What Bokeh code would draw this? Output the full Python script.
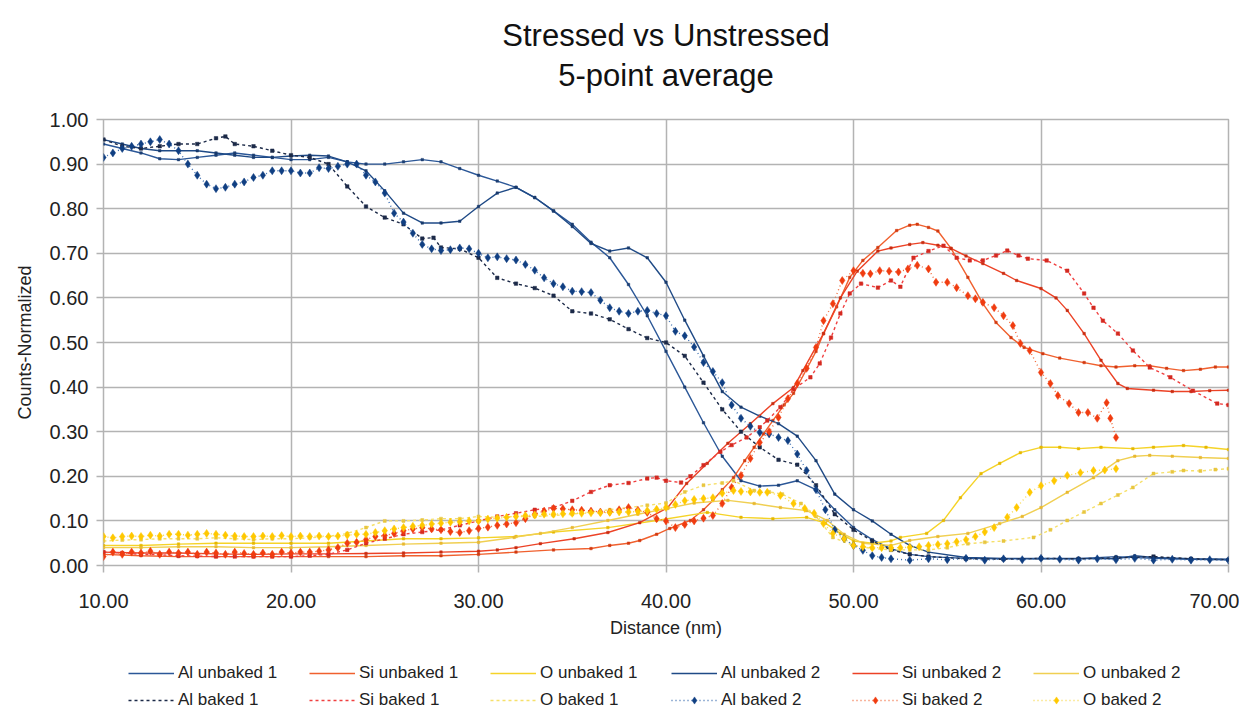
from bokeh.plotting import figure
from bokeh.layouts import column
from bokeh.models import (Range1d, FixedTicker, NumeralTickFormatter, Title,
                          Legend, LegendItem, ColumnDataSource)
from bokeh.embed import file_html
from bokeh.resources import INLINE

FONT = "Liberation Sans"

# ---------------- data (distance nm, normalized counts) ----------------
al_unbaked_1 = [(10,0.945),(11,0.935),(12,0.925),(13,0.912),(14,0.91),(15,0.915),(16,0.92),(17,0.925),
    (18,0.92),(19,0.915),(20,0.91),(21,0.91),(22,0.915),(23,0.905),(24,0.90),(25,0.90),(26,0.905),
    (27,0.91),(28,0.905),(29,0.89),(30,0.875),(31,0.862),(32,0.848),(33,0.825),(34,0.795),(35,0.765),
    (36,0.725),(37,0.69),(38,0.63),(39,0.56),(40,0.48),(41,0.40),(42,0.32),(43,0.245),(44,0.19),
    (45,0.178),(46,0.18),(47,0.19),(48,0.17),(49,0.125),(50,0.085),(51,0.058),(52,0.038),(53,0.025),
    (54,0.02),(56,0.016),(58,0.015),(60,0.016),(62,0.015),(64,0.02),(66,0.016),(68,0.014),(70,0.013)]

al_unbaked_2 = [(10,0.955),(11,0.945),(12,0.935),(13,0.93),(14,0.93),(15,0.93),(16,0.925),(17,0.92),
    (18,0.915),(19,0.915),(20,0.918),(21,0.92),(22,0.918),(23,0.905),(24,0.885),(25,0.84),(26,0.79),
    (27,0.768),(28,0.768),(29,0.772),(30,0.805),(31,0.835),(32,0.848),(33,0.825),(34,0.795),(35,0.76),
    (36,0.722),(37,0.705),(38,0.712),(39,0.69),(40,0.635),(41,0.55),(42,0.47),(43,0.39),(44,0.355),
    (45,0.335),(46,0.318),(47,0.29),(48,0.235),(49,0.16),(50,0.125),(51,0.1),(52,0.07),(53,0.045),
    (54,0.03),(56,0.018),(58,0.016),(60,0.015),(62,0.016),(64,0.015),(65,0.022),(66,0.018),(68,0.015),
    (70,0.014)]

al_baked_1 = [(10,0.955),(11,0.94),(12,0.935),(13,0.94),(14,0.945),(15,0.945),(16,0.958),(16.5,0.962),
    (17,0.945),(18,0.94),(19,0.93),(20,0.92),(21,0.915),(22,0.9),(23,0.85),(24,0.805),(25,0.78),
    (26,0.765),(27,0.733),(27.6,0.735),(28,0.713),(29,0.71),(30,0.69),(31,0.645),(32,0.632),(33,0.622),
    (34,0.605),(35,0.57),(36,0.565),(37,0.552),(38,0.53),(39,0.51),(40,0.50),(41,0.47),(42,0.41),
    (43,0.35),(44,0.30),(45,0.265),(46,0.237),(47,0.226),(48,0.18),(49,0.115),(50,0.08),(51,0.055),
    (52,0.035),(53,0.025),(54,0.02),(56,0.015),(58,0.014),(60,0.016),(62,0.015),(64,0.017),(66,0.02),
    (68,0.015),(70,0.013)]

al_baked_2 = [(10,0.915),(10.5,0.925),(11,0.935),(11.5,0.94),(12,0.945),(12.5,0.95),(13,0.955),
    (13.5,0.945),(14,0.93),(14.5,0.9),(15,0.875),(15.5,0.855),(16,0.845),(16.5,0.848),(17,0.855),
    (17.5,0.86),(18,0.87),(18.5,0.875),(19,0.885),(19.5,0.885),(20,0.885),(20.5,0.88),(21,0.88),
    (21.5,0.892),(22,0.89),(22.5,0.895),(23,0.9),(23.5,0.9),(24,0.875),(24.5,0.86),(25,0.835),
    (25.5,0.79),(26,0.77),(26.5,0.745),(27,0.72),(27.5,0.71),(28,0.706),(28.5,0.708),(29,0.712),
    (29.5,0.71),(30,0.70),(30.5,0.69),(31,0.692),(31.5,0.688),(32,0.685),(32.5,0.675),(33,0.662),
    (33.5,0.645),(34,0.632),(34.5,0.625),(35,0.615),(35.5,0.614),(36,0.612),(36.5,0.595),(37,0.578),
    (37.5,0.57),(38,0.565),(38.5,0.57),(39,0.572),(39.5,0.565),(40,0.56),(40.5,0.525),(41,0.515),
    (41.5,0.49),(42,0.455),(42.5,0.435),(43,0.41),(43.5,0.36),(44,0.33),(44.5,0.312),(45,0.298),
    (45.5,0.295),(46,0.287),(46.5,0.28),(47,0.25),(47.5,0.213),(48,0.17),(48.5,0.125),(49,0.08),
    (49.5,0.06),(50,0.045),(50.5,0.034),(51,0.022),(51.5,0.018),(52,0.015),(53,0.012),(54,0.015),
    (55,0.013),(56,0.016),(57,0.012),(58,0.015),(59,0.013),(60,0.016),(61,0.014),(62,0.012),(63,0.015),
    (64,0.013),(65,0.016),(66,0.012),(67,0.014),(68,0.012),(69,0.013),(70,0.012)]

si_unbaked_1 = [(10,0.025),(12,0.022),(14,0.02),(16,0.02),(18,0.02),(20,0.02),(22,0.02),(24,0.02),
    (26,0.022),(28,0.022),(30,0.025),(32,0.03),(34,0.035),(36,0.038),(37,0.045),(38,0.05),(38.6,0.056),
    (39.5,0.07),(40.2,0.083),(41.3,0.101),(42,0.125),(42.5,0.146),(43,0.17),(43.6,0.197),(44.2,0.235),
    (44.7,0.265),(45.2,0.295),(45.7,0.325),(46.3,0.36),(46.8,0.386),(47.5,0.44),(48,0.48),(48.4,0.52),
    (49.1,0.58),(49.8,0.646),(50.5,0.684),(51.3,0.713),(52.3,0.751),(53,0.763),(53.4,0.765),(54,0.758),
    (54.5,0.75),(55.2,0.711),(56.1,0.646),(56.9,0.587),(57.6,0.545),(58.4,0.511),(59.1,0.489),
    (60.1,0.475),(61,0.465),(62.3,0.455),(63.2,0.448),(64,0.445),(65,0.448),(65.8,0.448),(66.7,0.442),
    (67.6,0.437),(68.5,0.44),(69.3,0.445),(70,0.445)]

si_unbaked_2 = [(10,0.03),(12,0.028),(14,0.028),(16,0.026),(18,0.025),(20,0.026),(22,0.026),(24,0.027),
    (26,0.028),(28,0.03),(30,0.032),(31,0.035),(32,0.04),(33.3,0.049),(35.1,0.06),(36.9,0.074),
    (38.6,0.096),(40.1,0.13),(41.1,0.184),(42.2,0.229),(43.3,0.274),(44.5,0.318),(45.7,0.363),
    (46.8,0.399),(47.3,0.437),(48,0.49),(48.4,0.52),(49.3,0.6),(50.2,0.66),(51.3,0.705),(52,0.712),
    (53,0.72),(53.7,0.724),(54.5,0.718),(55.2,0.711),(56,0.694),(56.9,0.677),(58,0.655),(58.7,0.639),
    (60,0.621),(60.8,0.6),(61.4,0.572),(62.3,0.52),(63.2,0.46),(64.1,0.408),(64.6,0.397),(66,0.393),
    (67,0.39),(68,0.39),(69,0.392),(70,0.393)]

si_baked_1 = [(10,0.03),(11,0.028),(12,0.025),(13,0.024),(14,0.022),(15,0.021),(16,0.02),(17,0.02),
    (18,0.02),(19,0.02),(20,0.02),(21,0.022),(22,0.025),(23,0.035),(24,0.05),(25,0.06),(26,0.07),
    (27,0.075),(28,0.08),(29,0.09),(30,0.1),(31,0.11),(32,0.117),(33,0.125),(34,0.13),(35,0.145),
    (36,0.165),(37,0.18),(38,0.185),(39,0.195),(39.5,0.197),(40,0.19),(40.8,0.186),(41.3,0.2),
    (42,0.225),(42.9,0.255),(43.5,0.27),(44.3,0.287),(45,0.31),(45.4,0.325),(46.1,0.355),(46.8,0.395),
    (47.7,0.422),(48.2,0.453),(48.8,0.511),(49.3,0.565),(49.8,0.61),(50.4,0.632),(51.3,0.623),
    (52,0.639),(52.5,0.625),(53.2,0.69),(54,0.705),(54.8,0.717),(55.5,0.69),(56.2,0.684),(56.9,0.684),
    (57.6,0.695),(58.2,0.706),(58.8,0.695),(59.3,0.688),(60.3,0.684),(61.4,0.661),(62.3,0.61),
    (62.8,0.578),(63.3,0.549),(64.1,0.52),(64.9,0.482),(65.8,0.444),(66.9,0.422),(68.1,0.392),
    (69.4,0.363),(70,0.36)]

si_baked_2 = [(10,0.02),(10.5,0.03),(11,0.025),(11.5,0.03),(12,0.028),(12.5,0.032),(13,0.025),
    (13.5,0.03),(14,0.028),(14.5,0.03),(15,0.025),(15.5,0.03),(16,0.028),(16.5,0.025),(17,0.03),
    (17.5,0.027),(18,0.025),(18.5,0.028),(19,0.025),(19.5,0.03),(20,0.028),(20.5,0.03),(21,0.03),
    (21.5,0.032),(22,0.035),(22.5,0.04),(23,0.05),(23.5,0.052),(24,0.058),(24.5,0.065),(25,0.067),
    (25.5,0.072),(26,0.078),(26.5,0.082),(27,0.085),(27.5,0.082),(28,0.08),(28.5,0.076),(29,0.074),
    (29.5,0.078),(30,0.083),(30.5,0.086),(31,0.09),(31.5,0.093),(32,0.096),(32.5,0.105),(33,0.115),
    (33.5,0.122),(34,0.128),(34.5,0.127),(35,0.125),(35.5,0.124),(36,0.122),(36.5,0.12),(37,0.12),
    (37.5,0.125),(38,0.13),(38.5,0.124),(39,0.119),(39.5,0.105),(40,0.1),(40.5,0.085),(41,0.092),
    (41.5,0.1),(42,0.106),(42.5,0.112),(43,0.139),(43.5,0.175),(44,0.202),(44.5,0.24),(45,0.276),
    (45.5,0.3),(46,0.332),(46.5,0.374),(47,0.408),(47.5,0.442),(48,0.489),(48.4,0.549),(48.9,0.587),
    (49.4,0.639),(50,0.661),(50.5,0.655),(50.9,0.654),(51.4,0.661),(51.9,0.66),(52.4,0.658),
    (52.9,0.665),(53.4,0.673),(54,0.665),(54.4,0.635),(55,0.635),(55.5,0.623),(56.1,0.605),
    (56.5,0.598),(56.9,0.59),(57.5,0.578),(58,0.56),(58.5,0.538),(58.9,0.498),(59.4,0.482),(60,0.433),
    (60.5,0.408),(60.9,0.381),(61.5,0.363),(62,0.343),(62.5,0.343),(63,0.33),(63.5,0.365),(63.7,0.33),
    (64,0.287)]

o_unbaked_1 = [(10,0.045),(12,0.045),(14,0.048),(16,0.05),(18,0.05),(20,0.05),(22,0.05),(24,0.055),
    (26,0.06),(28,0.06),(30,0.062),(32,0.065),(34,0.075),(36.9,0.085),(39.5,0.101),(42.2,0.119),
    (44,0.108),(45.7,0.105),(47.5,0.108),(48.5,0.095),(49.3,0.072),(50,0.055),(51,0.05),(52,0.055),
    (52.5,0.063),(53.9,0.072),(54.8,0.101),(55.7,0.152),(56.8,0.206),(57.8,0.229),(58.9,0.253),
    (60,0.265),(61,0.265),(62,0.262),(63.2,0.265),(64.9,0.262),(66,0.265),(67.6,0.269),(68.8,0.265),
    (70,0.26)]

o_unbaked_2 = [(10,0.04),(12,0.04),(14,0.042),(16,0.042),(18,0.04),(20,0.04),(22,0.042),(24,0.045),
    (26,0.048),(28,0.05),(30,0.052),(31.9,0.063),(33.3,0.072),(35,0.085),(36.9,0.101),(38.5,0.115),
    (40.1,0.128),(41.5,0.14),(43.3,0.146),(44.7,0.139),(46.1,0.13),(47.5,0.123),(48.6,0.101),
    (49.5,0.07),(50.5,0.05),(52,0.045),(53,0.056),(54.5,0.065),(56.1,0.072),(57.8,0.094),(59,0.11),
    (60,0.13),(61.4,0.164),(62.8,0.197),(64.1,0.235),(65,0.245),(65.8,0.247),(67,0.245),(68.5,0.242),
    (70,0.24)]

o_baked_1 = [(10,0.055),(11,0.057),(12,0.058),(13,0.06),(14,0.06),(15,0.06),(16,0.062),(17,0.06),
    (18,0.058),(19,0.06),(20,0.06),(21,0.062),(22,0.065),(23,0.072),(24,0.085),(25,0.1),(26,0.1),
    (27,0.102),(28,0.105),(29,0.105),(30,0.11),(31,0.108),(32,0.11),(33,0.11),(34,0.112),(35,0.115),
    (36,0.12),(37,0.125),(38,0.13),(39,0.135),(40,0.14),(41,0.165),(42,0.18),(43,0.185),(43.6,0.19),
    (44.7,0.168),(45.5,0.165),(46.2,0.16),(47.2,0.139),(48,0.11),(48.9,0.063),(50,0.045),(51,0.038),
    (52,0.035),(53,0.035),(54,0.035),(55,0.04),(56.1,0.049),(57,0.052),(58,0.055),(59.6,0.063),
    (60.5,0.08),(61.4,0.101),(62.3,0.12),(63.2,0.139),(64.1,0.158),(64.9,0.175),(66,0.206),(67,0.21),
    (67.6,0.213),(68.5,0.212),(69.3,0.215),(70,0.217)]

o_baked_2 = [(10,0.065),(10.5,0.062),(11,0.065),(11.5,0.066),(12,0.065),(12.5,0.068),(13,0.066),
    (13.5,0.07),(14,0.07),(14.5,0.068),(15,0.07),(15.5,0.072),(16,0.07),(16.5,0.068),(17,0.066),
    (17.5,0.065),(18,0.065),(18.5,0.066),(19,0.065),(19.5,0.067),(20,0.065),(20.5,0.066),(21,0.065),
    (21.5,0.066),(22,0.065),(22.5,0.066),(23,0.068),(23.5,0.07),(24,0.07),(24.5,0.074),(25,0.078),
    (25.5,0.082),(26,0.085),(26.5,0.088),(27,0.09),(27.5,0.093),(28,0.095),(28.5,0.097),(29,0.098),
    (29.5,0.1),(30,0.1),(30.5,0.104),(31,0.106),(31.5,0.108),(32,0.11),(32.5,0.112),(33,0.113),
    (33.5,0.115),(34,0.115),(34.5,0.116),(35,0.117),(35.5,0.117),(36,0.118),(36.5,0.118),(37,0.119),
    (37.5,0.12),(38,0.12),(38.5,0.121),(39,0.123),(39.5,0.126),(40,0.13),(40.5,0.137),(41,0.145),
    (41.5,0.148),(42,0.15),(42.5,0.152),(43,0.162),(43.6,0.168),(44,0.166),(44.5,0.165),(45,0.164),
    (45.4,0.164),(46.1,0.157),(46.8,0.139),(47.4,0.128),(47.9,0.117),(48.4,0.094),(48.9,0.072),
    (49.5,0.06),(50,0.045),(50.5,0.042),(51,0.04),(51.5,0.04),(52,0.04),(52.5,0.04),(53,0.041),
    (53.5,0.042),(54,0.045),(54.5,0.047),(55,0.049),(55.5,0.053),(56,0.058),(56.5,0.065),(57,0.075),
    (57.5,0.085),(58.2,0.108),(58.7,0.13),(59.4,0.164),(60,0.179),(60.7,0.19),(61.4,0.202),
    (62.1,0.208),(62.8,0.213),(63.4,0.214),(64,0.217)]

x_ticks = [10, 20, 30, 40, 50, 60, 70]
y_ticks = [0.0, 0.1, 0.2, 0.3, 0.4, 0.5, 0.6, 0.7, 0.8, 0.9, 1.0]

# name, data, line color, dash, marker, marker size, marker color
series = [
    ("Al unbaked 1", al_unbaked_1, "#2b5797", "solid", "square", 2.5, "#1d3f73"),
    ("Si unbaked 1", si_unbaked_1, "#f0602e", "solid", "square", 2.5, "#d23a10"),
    ("O unbaked 1", o_unbaked_1, "#f5d328", "solid", "square", 2.5, "#e6b800"),
    ("Al unbaked 2", al_unbaked_2, "#1f4a86", "solid", "square", 2.5, "#183a6c"),
    ("Si unbaked 2", si_unbaked_2, "#ec4226", "solid", "square", 2.5, "#c92d10"),
    ("O unbaked 2", o_unbaked_2, "#f0cf52", "solid", "square", 2.5, "#e8b830"),
    ("Al baked 1", al_baked_1, "#1c2a48", "3 3", "square", 3.5, "#1c2a48"),
    ("Si baked 1", si_baked_1, "#f04040", "3 3", "square", 3.5, "#d42a20"),
    ("O baked 1", o_baked_1, "#f6e06a", "3 3", "square", 3.0, "#e8c640"),
    ("Al baked 2", al_baked_2, "#3a6db0", "1 3", "diamond", 8, "#103f82"),
    ("Si baked 2", si_baked_2, "#f26a3a", "1 3", "diamond", 8, "#f03c10"),
    ("O baked 2", o_baked_2, "#f7d84a", "1 3", "diamond", 8, "#ffc800"),
]

W = 1239
p = figure(width=W, height=641, output_backend="svg", toolbar_location=None,
           x_range=Range1d(10, 70), y_range=Range1d(0, 1), title=None,
           min_border_left=103, min_border_right=11, min_border_top=119, min_border_bottom=76)
p.background_fill_color = "white"
p.border_fill_color = "white"
p.outline_line_color = "#b3b3b3"
p.outline_line_width = 1.5

for ax in (p.xaxis[0], p.yaxis[0]):
    ax.axis_line_color = None
    ax.major_tick_line_color = "#b3b3b3"
    ax.major_tick_line_width = 1.5
    ax.major_tick_out = 7
    ax.major_tick_in = 0
    ax.minor_tick_line_color = None
    ax.major_label_text_font = FONT
    ax.major_label_text_font_size = "20px"
    ax.major_label_text_color = "#222222"
    ax.axis_label_text_font = FONT
    ax.axis_label_text_font_size = "18px"
    ax.axis_label_text_font_style = "normal"
    ax.axis_label_text_color = "#222222"
    ax.formatter = NumeralTickFormatter(format="0.00")

p.xaxis[0].ticker = FixedTicker(ticks=x_ticks)
p.yaxis[0].ticker = FixedTicker(ticks=y_ticks)
p.xaxis[0].axis_label = "Distance (nm)"
p.yaxis[0].axis_label = "Counts-Normalized"
p.xaxis[0].major_label_standoff = 21
p.xaxis[0].axis_label_standoff = 7
p.yaxis[0].major_label_standoff = 8
p.yaxis[0].axis_label_standoff = 12

p.xgrid.ticker = FixedTicker(ticks=x_ticks)
p.ygrid.ticker = FixedTicker(ticks=y_ticks)
for g in (p.xgrid[0], p.ygrid[0]):
    g.grid_line_color = "#b3b3b3"
    g.grid_line_width = 1.5

# legend strip below the chart (its renderers share the data but sit outside its view)
lf = figure(width=W, height=69, output_backend="svg", toolbar_location=None,
            x_range=Range1d(-100, -99), y_range=Range1d(-100, -99), title=None,
            x_axis_type=None, y_axis_type=None, min_border=0)
lf.grid.visible = False
lf.outline_line_color = None
lf.background_fill_color = "white"
lf.border_fill_color = "white"

items = []
for name, data, lc, dash, marker, msize, mc in series:
    src = ColumnDataSource(data=dict(x=[d[0] for d in data], y=[d[1] for d in data]))
    p.line("x", "y", source=src, line_color=lc, line_width=1.4, line_dash=dash)
    p.scatter("x", "y", source=src, marker=marker, size=msize,
              fill_color=mc, line_color=mc, line_width=0.5)
    lr = lf.line("x", "y", source=src, line_color=lc, line_width=1.4, line_dash=dash)
    rends = [lr]
    if marker == "diamond":
        rends.append(lf.scatter("x", "y", source=src, marker=marker, size=msize,
                                fill_color=mc, line_color=mc, line_width=0.5))
    items.append(LegendItem(label=name, renderers=rends))

lg = Legend(items=items, orientation="horizontal", ncols=6, location=(25, 0),
            label_text_font=FONT, label_text_font_size="17px", label_text_color="#222222",
            glyph_width=46, glyph_height=18, label_height=18, label_width=124, label_standoff=4,
            spacing=7, padding=0, margin=0, border_line_color=None, background_fill_alpha=0)
lf.add_layout(lg, "center")

sub = Title(text="5-point average", align="center", text_font=FONT, text_font_size="31px",
            text_font_style="normal", text_color="#111111", standoff=54)
main = Title(text="Stressed vs Unstressed", align="center", text_font=FONT, text_font_size="31px",
             text_font_style="normal", text_color="#111111", standoff=-49)
p.add_layout(sub, "above")
p.add_layout(main, "above")

open("out.html", "w").write(file_html(column(p, lf, spacing=0), INLINE))
